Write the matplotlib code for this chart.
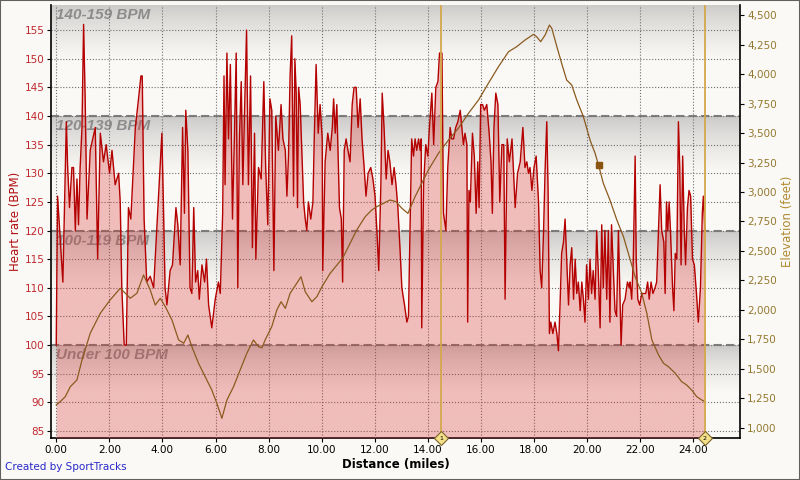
import numpy as np
import matplotlib.pyplot as plt
from matplotlib.patches import Rectangle
from matplotlib.ticker import FuncFormatter, MultipleLocator

# Heart rate trace (miles, BPM)
hr_dist = [0.00, 0.05, 0.25, 0.38, 0.43, 0.50, 0.59, 0.65, 0.72, 0.78, 0.84, 0.90, 0.97, 1.03, 1.09, 1.16,
           1.28, 1.47, 1.56, 1.66, 1.78, 1.88, 2.01, 2.10, 2.22, 2.35, 2.41, 2.47, 2.56, 2.64, 2.72, 2.81,
           2.98, 3.10, 3.19, 3.24, 3.31, 3.41, 3.54, 3.67, 3.98, 4.04, 4.10, 4.17, 4.29, 4.38, 4.51, 4.58,
           4.67, 4.76, 4.83, 4.88, 4.96, 5.04, 5.11, 5.18, 5.25, 5.33, 5.39, 5.49, 5.59, 5.66, 5.74, 5.86,
           5.99, 6.11, 6.18, 6.27, 6.32, 6.36, 6.43, 6.49, 6.56, 6.64, 6.71, 6.78, 6.84, 6.90, 6.97, 7.03,
           7.09, 7.17, 7.24, 7.32, 7.39, 7.47, 7.52, 7.62, 7.72, 7.82, 7.89, 7.97, 8.05, 8.12, 8.20, 8.27,
           8.37, 8.47, 8.54, 8.63, 8.69, 8.75, 8.81, 8.87, 8.94, 8.99, 9.04, 9.09, 9.13, 9.19, 9.25, 9.32,
           9.38, 9.44, 9.50, 9.59, 9.67, 9.72, 9.79, 9.87, 9.94, 10.02, 10.04, 10.13, 10.23, 10.32, 10.40, 10.45,
           10.51, 10.57, 10.67, 10.74, 10.79, 10.85, 10.92, 10.99, 11.07, 11.15, 11.22, 11.30, 11.37, 11.45, 11.52, 11.60,
           11.67, 11.75, 11.85, 11.93, 12.01, 12.08, 12.15, 12.23, 12.28, 12.35, 12.43, 12.50, 12.57, 12.65, 12.73, 12.80,
           12.87, 12.96, 13.02, 13.12, 13.21, 13.27, 13.33, 13.39, 13.46, 13.52, 13.58, 13.65, 13.71, 13.75, 13.77, 13.84,
           13.92, 14.00, 14.06, 14.15, 14.22, 14.30, 14.38, 14.44, 14.53, 14.59, 14.68, 14.75, 14.84, 14.90, 14.97, 15.05,
           15.13, 15.22, 15.28, 15.34, 15.40, 15.47, 15.50, 15.55, 15.60, 15.68, 15.75, 15.82, 15.88, 15.93, 15.99, 16.06,
           16.13, 16.22, 16.31, 16.38, 16.43, 16.49, 16.56, 16.64, 16.71, 16.79, 16.86, 16.91, 16.99, 17.07, 17.17, 17.29,
           17.38, 17.48, 17.58, 17.66, 17.73, 17.79, 17.85, 17.92, 18.00, 18.08, 18.17, 18.23, 18.29, 18.36, 18.42, 18.48,
           18.53, 18.58, 18.63, 18.71, 18.79, 18.86, 18.92, 18.98, 19.04, 19.11, 19.17, 19.23, 19.30, 19.36, 19.42, 19.49,
           19.55, 19.61, 19.67, 19.74, 19.80, 19.86, 19.92, 19.98, 20.05, 20.11, 20.17, 20.23, 20.30, 20.36, 20.42, 20.49,
           20.55, 20.61, 20.67, 20.74, 20.80, 20.86, 20.92, 20.99, 21.05, 21.11, 21.18, 21.24, 21.28, 21.34, 21.43, 21.52,
           21.59, 21.62, 21.68, 21.74, 21.81, 21.85, 21.91, 21.98, 22.06, 22.13, 22.21, 22.28, 22.34, 22.41, 22.48, 22.56,
           22.62, 22.69, 22.75, 22.81, 22.89, 22.94, 22.99, 23.04, 23.09, 23.14, 23.22, 23.27, 23.32, 23.38, 23.44, 23.49,
           23.54, 23.60, 23.66, 23.71, 23.78, 23.84, 23.90, 23.97, 24.04, 24.12, 24.19, 24.27, 24.34, 24.38, 24.44]
hr_bpm = [100, 126, 111, 139, 131, 124, 131, 131, 120, 129, 121, 131, 138, 156, 143, 122,
          134, 138, 115, 137, 132, 135, 130, 134, 128, 130, 125, 110, 100, 100, 124, 122,
          138, 143, 147, 147, 122, 111, 112, 110, 137, 124, 110, 107, 113, 114, 124, 121,
          114, 138, 123, 141, 134, 110, 109, 124, 111, 113, 108, 114, 111, 115, 107, 103,
          108, 111, 109, 123, 147, 128, 151, 136, 149, 122, 136, 151, 110, 136, 146, 128,
          140, 155, 128, 147, 117, 137, 115, 131, 129, 146, 131, 121, 143, 141, 113, 140,
          134, 142, 136, 134, 126, 133, 147, 154, 126, 150, 144, 124, 145, 142, 134, 125,
          122, 120, 125, 122, 125, 136, 149, 137, 142, 136, 113, 132, 137, 134, 138, 143,
          137, 142, 124, 122, 111, 134, 136, 134, 132, 142, 145, 145, 138, 143, 136, 131,
          126, 130, 131, 129, 126, 120, 113, 128, 144, 138, 129, 134, 132, 128, 131, 128,
          124, 116, 110, 107, 104, 105, 120, 136, 133, 136, 134, 136, 134, 136, 103, 128,
          135, 133, 138, 144, 135, 145, 146, 151, 151, 123, 120, 131, 138, 136, 136, 138,
          139, 141, 138, 135, 137, 135, 104, 127, 125, 137, 133, 123, 132, 124, 142, 142,
          141, 142, 137, 132, 123, 138, 144, 142, 125, 135, 135, 108, 136, 132, 136, 124,
          130, 132, 138, 131, 132, 130, 131, 127, 131, 133, 125, 113, 110, 120, 131, 139,
          127, 102, 104, 102, 104, 102, 99, 107, 116, 118, 122, 115, 107, 114, 117, 108,
          115, 109, 111, 106, 111, 108, 104, 114, 108, 115, 109, 113, 108, 120, 113, 103,
          121, 110, 120, 108, 120, 104, 121, 113, 106, 105, 120, 108, 100, 107, 108, 111,
          110, 111, 108, 115, 133, 115, 108, 107, 109, 109, 109, 111, 108, 111, 109, 110,
          111, 120, 128, 120, 118, 109, 125, 120, 125, 120, 110, 106, 116, 115, 139, 131,
          114, 133, 120, 114, 124, 127, 126, 115, 114, 109, 104, 110, 123, 126, 120]

# Elevation trace (miles, feet)
elev_dist = [0.00, 0.15, 0.34, 0.53, 0.78, 0.97, 1.28, 1.66, 2.03, 2.41, 2.60, 2.79, 3.04, 3.29, 3.54, 3.73,
             3.92, 4.11, 4.36, 4.61, 4.80, 4.96, 5.11, 5.36, 5.61, 5.86, 6.05, 6.24, 6.43, 6.68, 6.93, 7.18,
             7.43, 7.62, 7.75, 7.87, 8.12, 8.31, 8.47, 8.63, 8.81, 9.06, 9.22, 9.38, 9.63, 9.82, 10.01, 10.32,
             10.63, 10.82, 11.07, 11.32, 11.64, 11.89, 12.08, 12.33, 12.57, 12.80, 13.02, 13.25, 13.52, 13.77,
             14.02, 14.40, 14.78, 15.15, 15.53, 15.91, 16.28, 16.66, 17.04, 17.35, 17.66, 17.98, 18.10, 18.25,
             18.42, 18.58, 18.67, 18.86, 19.04, 19.23, 19.42, 19.61, 19.86, 20.11, 20.30, 20.43, 20.61, 20.86,
             21.12, 21.37, 21.59, 21.81, 22.06, 22.25, 22.44, 22.69, 22.88, 23.06, 23.32, 23.56, 23.75, 23.94,
             24.13, 24.32, 24.44]
elev_ft = [1195, 1223, 1265, 1350, 1407, 1576, 1803, 1972, 2085, 2184, 2142, 2099, 2142, 2297, 2170, 2042,
           2099, 2028, 1915, 1746, 1718, 1788, 1689, 1548, 1435, 1322, 1209, 1082, 1237, 1350, 1492, 1633,
           1746, 1689, 1680, 1746, 1859, 2000, 2070, 2014, 2141, 2226, 2282, 2155, 2070, 2113, 2197, 2311,
           2396, 2452, 2565, 2678, 2791, 2848, 2876, 2904, 2932, 2918, 2862, 2819, 2961, 3074,
           3187, 3328, 3441, 3540, 3667, 3780, 3921, 4062, 4189, 4232, 4288, 4336, 4316, 4274,
           4331, 4415, 4387, 4232, 4091, 3949, 3907, 3780, 3638, 3441, 3328, 3229, 3074, 2932,
           2763, 2621, 2452, 2282, 2141, 1972, 1746, 1619, 1548, 1520, 1464, 1393, 1364, 1322,
           1265, 1237, 1223]

zone_edges = [83.76, 100, 120, 140, 159.39]
zone_labels = ['Under 100 BPM', '100-119 BPM', '120-139 BPM', '140-159 BPM']
markers = [(14.5, '1'), (24.44, '2')]
hover_point = (20.43, 3229)

bg = np.array([250, 249, 246]) / 255
fig = plt.figure(figsize=(8, 4.8), dpi=100, facecolor=bg)
ax = fig.add_axes([0.064, 0.0875, 0.861, 0.9021])
ax.set_facecolor(bg)
ax.set_xlim(-0.19, 25.76)
ax.set_ylim(zone_edges[0], zone_edges[-1])

# gradient zone bands: grey at the top edge fading to off-white
top_grey = np.array([200, 199, 197]) / 255
for lo, hi in zip(zone_edges[:-1], zone_edges[1:]):
    t = np.linspace(0, 1, 200)
    k = np.clip(t / 0.5, 0, 1) ** 0.7
    cols = top_grey[None, :] + (bg - top_grey)[None, :] * k[:, None]
    img = np.repeat(cols[:, None, :], 2, axis=1)
    ax.imshow(img, extent=[-0.19, 25.76, lo, hi], origin='upper', aspect='auto', zorder=0)

for lo, hi, lab in zip(zone_edges[:-1], zone_edges[1:], zone_labels):
    ax.text(0.0, hi - 0.6, lab, ha='left', va='top', fontsize=11, fontweight='bold', style='italic',
            family='Liberation Sans', color='#8c8c8c', zorder=1)

ax.grid(True, ls=':', color='#6e6e6e', lw=0.8, zorder=1)
ax.set_axisbelow(False)
for y in zone_edges[1:-1]:
    ax.axhline(y, color='#7f7f7f', ls=(0, (4, 2)), lw=1.5, zorder=2)

ax.fill_between(hr_dist, hr_bpm, zone_edges[0], color=(0.86, 0.2, 0.2), alpha=0.3, lw=0, zorder=3)
ax.plot(hr_dist, hr_bpm, color='#b40000', lw=1.0, zorder=4)

ax.xaxis.set_major_locator(MultipleLocator(2))
ax.xaxis.set_major_formatter(FuncFormatter(lambda v, p: f'{v:.2f}'))
ax.yaxis.set_major_locator(MultipleLocator(5))
ax.tick_params(axis='both', labelsize=7.5, length=3, direction='out', pad=2)
ax.tick_params(axis='y', labelcolor='#c0282d')
ax.set_xlabel('Distance (miles)', fontsize=8.5, fontweight='bold', labelpad=2)
ax.set_ylabel('Heart rate (BPM)', fontsize=8.5, color='#b01010', labelpad=2)
for s in ['top', 'right']:
    ax.spines[s].set_visible(False)
ax.spines['left'].set_linewidth(1.2)
ax.spines['bottom'].set_linewidth(1.2)

ax2 = ax.twinx()
ax2.set_ylim(915, 4585)
ax2.plot(elev_dist, elev_ft, color='#8c5a1e', lw=0.9, zorder=5)
ax2.plot(*hover_point, marker='s', ms=5, color='#8a5510', zorder=6)
ax2.yaxis.set_major_locator(MultipleLocator(250))
ax2.yaxis.set_major_formatter(FuncFormatter(lambda v, p: f'{int(v):,}'))
ax2.tick_params(axis='y', labelsize=7.5, length=3, labelcolor='#94782e', pad=2)
ax2.set_ylabel('Elevation (feet)', fontsize=8.5, color='#b08a30', labelpad=3)
for s in ['top', 'left', 'bottom']:
    ax2.spines[s].set_visible(False)
ax2.spines['right'].set_linewidth(1.2)

for x, lab in markers:
    ax2.axvline(x, color='#d4a84c', lw=1.3, zorder=6)
    ax2.plot(x, 915, marker='D', ms=7, mfc='#f5e08a', mec='#7a6428', mew=0.8, clip_on=False, zorder=7)
    ax2.text(x, 915, lab, ha='center', va='center', fontsize=4.5, zorder=8, clip_on=False)

fig.text(0.006, 0.016, 'Created by SportTracks', fontsize=7.5, color='#2828c8', ha='left', va='bottom')
fig.patches.append(Rectangle((0, 0), 1, 1, transform=fig.transFigure, fill=False,
                             edgecolor='#606060', lw=1.5))

fig.savefig('out.png', dpi=100, facecolor=bg)
